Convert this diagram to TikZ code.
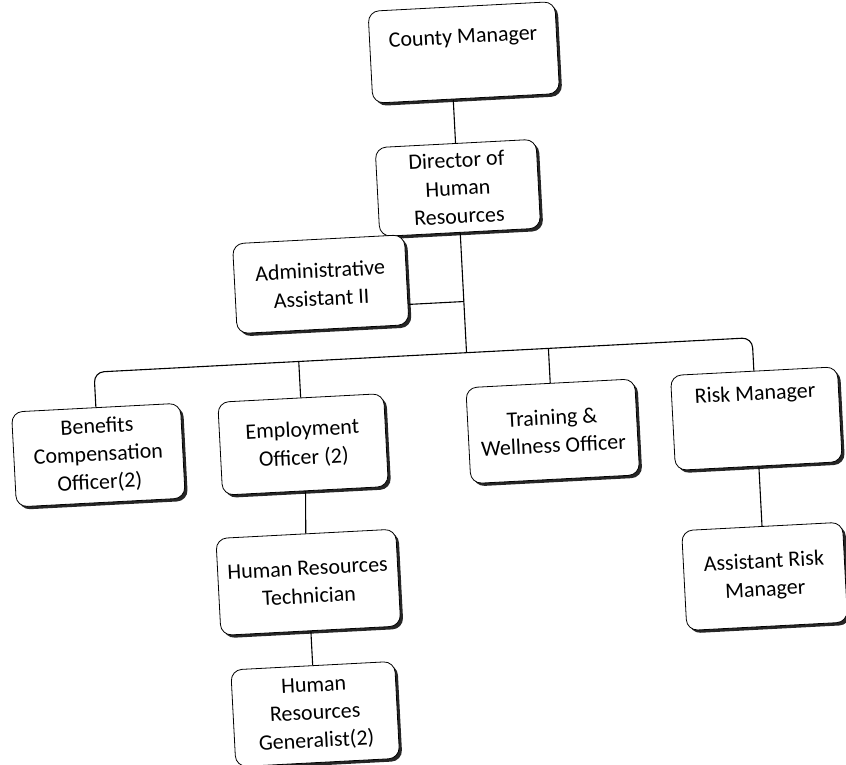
\documentclass[tikz,border=0pt]{standalone}
\usepackage{fontspec}
\setmainfont{Carlito}
\usetikzlibrary{shadows}

\begin{document}
\begin{tikzpicture}[x=1pt,y=-1pt,
	post/.style={draw,thick,fill=white,rounded corners=11pt,align=center,
		font=\fontsize{22}{28}\selectfont,inner sep=2pt,
		drop shadow={shadow xshift=2.8pt,shadow yshift=-2.8pt,fill=black!85,opacity=1}},
	link/.style={line width=1.1pt}]
\useasboundingbox (0,0) rectangle (846,765);

\begin{scope}[rotate around={3:(423,382)},transform shape]
\node[post,minimum width=187pt,minimum height=92pt,text depth=32pt] (county) at (481,55){County Manager};
\node[post,minimum width=161pt,minimum height=89pt] (director) at (468,190){Director of\\Human\\Resources};
\node[post,minimum width=172pt,minimum height=90pt] (admin) at (326,279){Administrative\\Assistant II};

\node[post,minimum width=169pt,minimum height=95pt] (benefits) at (95,438){Benefits\\Compensation\\Officer(2)};
\node[post,minimum width=166pt,minimum height=93pt] (employ) at (300,438){Employment\\Officer (2)};
\node[post,minimum width=169pt,minimum height=96pt] (training) at (550,438){Training \&\\Wellness Officer};
\node[post,minimum width=167pt,minimum height=95pt,text depth=52pt] (risk) at (754,436){Risk Manager};

\node[post,minimum width=180pt,minimum height=97pt] (tech) at (298,576){Human Resources\\Technician};
\node[post,minimum width=164pt,minimum height=97pt] (general) at (298,708){Human\\Resources\\Generalist(2)};
\node[post,minimum width=161pt,minimum height=100pt] (arisk) at (754,594){Assistant Risk\\Manager};

\coordinate (bar) at (468,355);

\draw[link](county.south -| bar)--(director.north -| bar);
\draw[link](director.south)--(bar);
\draw[link](admin.-16)--(admin.-16 -| bar);
\draw[link,rounded corners=10pt](benefits.north) |- (bar) -| (risk.north);
\draw[link](employ.north |- bar)--(employ.north);
\draw[link](training.north |- bar)--(training.north);
\draw[link](employ.south)--(tech.north);
\draw[link](tech.south)--(general.north);
\draw[link](risk.south)--(arisk.north);
\end{scope}
\end{tikzpicture}
\end{document}
